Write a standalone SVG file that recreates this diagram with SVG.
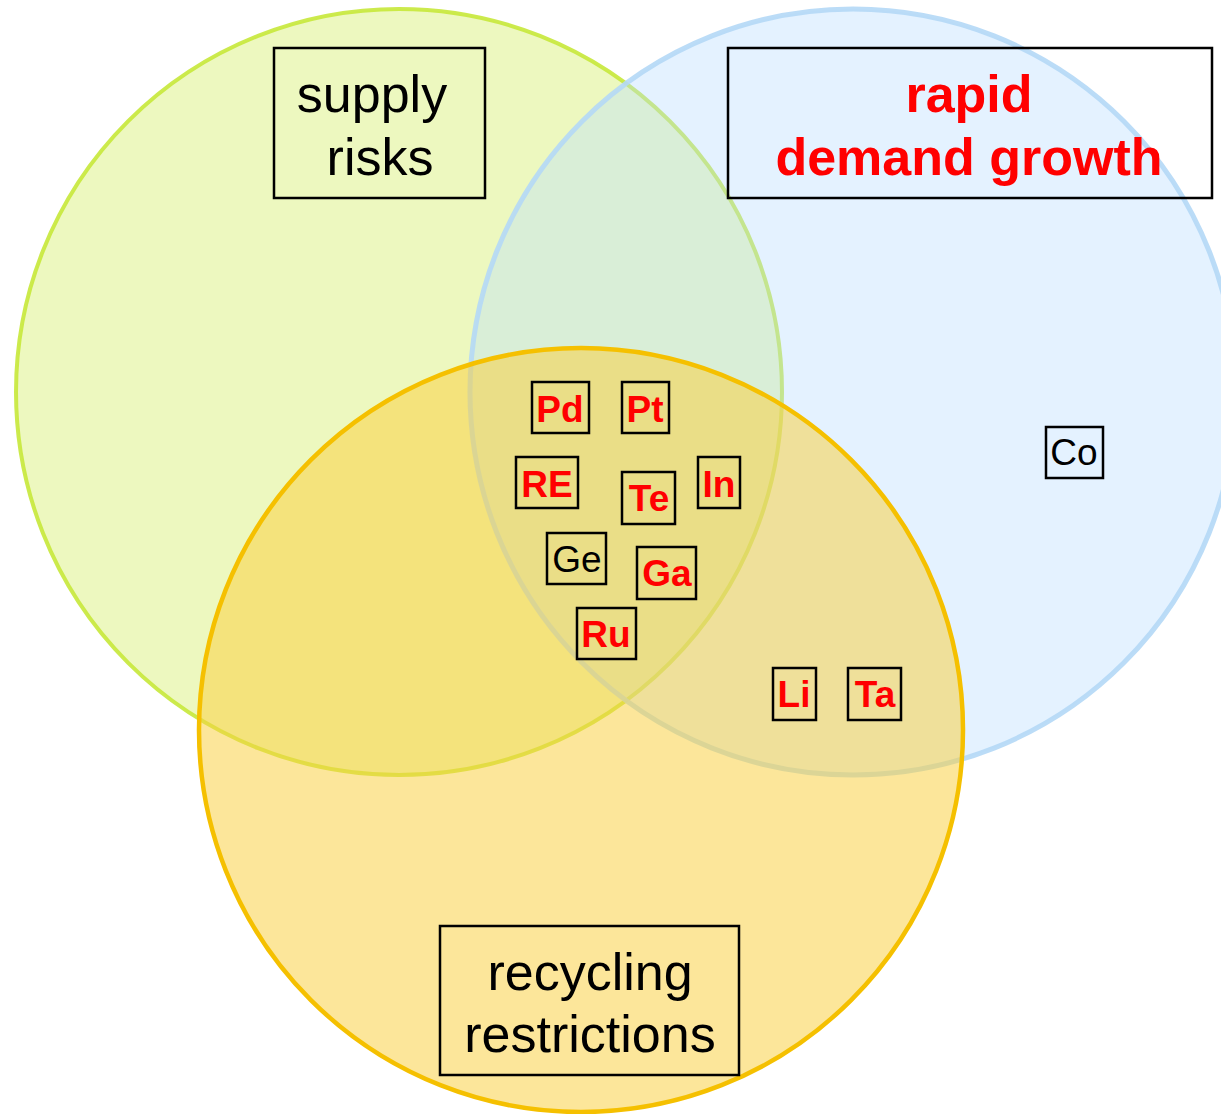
<svg xmlns="http://www.w3.org/2000/svg" width="1221" height="1114" viewBox="0 0 1221 1114">
<style>
.lbl{font-family:"Liberation Sans",Arial,sans-serif;font-size:52px;text-anchor:middle}
.el{font-family:"Liberation Sans",Arial,sans-serif;font-size:37px;font-weight:bold;fill:#ff0000;text-anchor:middle}
.elb{font-family:"Liberation Sans",Arial,sans-serif;font-size:37px;fill:#000;text-anchor:middle}
.box{fill:none;stroke:#000;stroke-width:2.5}
</style>
<rect width="1221" height="1114" fill="#fff"/>
<g id="sets">
<circle id="supply-risks-set" cx="399" cy="392" r="383" fill="#d8f070" fill-opacity="0.45" stroke="#c6e83a" stroke-opacity="0.9" stroke-width="4"/>
<circle id="demand-growth-set" cx="853" cy="392" r="383" fill="#b8dcff" fill-opacity="0.38" stroke="#b4d8f6" stroke-opacity="0.9" stroke-width="5"/>
<circle id="recycling-set" cx="581" cy="730" r="382" fill="#f9d040" fill-opacity="0.53" stroke="#f5c000" stroke-width="4.5"/>
</g>
<g id="label-supply">
<rect class="box" x="274" y="48" width="211" height="150"/>
<text class="lbl" x="372" y="112">supply</text>
<text class="lbl" x="380" y="175">risks</text>
</g>
<g id="label-demand">
<rect class="box" x="728" y="48" width="484" height="150"/>
<text class="lbl" x="969" y="112" fill="#ff0000" font-weight="bold">rapid</text>
<text class="lbl" x="969" y="175" fill="#ff0000" font-weight="bold">demand growth</text>
</g>
<g id="label-recycling">
<rect class="box" x="440" y="926" width="299" height="149"/>
<text class="lbl" x="590" y="990">recycling</text>
<text class="lbl" x="590" y="1052">restrictions</text>
</g>
<g id="el-Pd"><rect class="box" x="532" y="382" width="57" height="51"/><text class="el" x="560" y="422">Pd</text></g>
<g id="el-Pt"><rect class="box" x="622" y="382" width="47" height="51"/><text class="el" x="645" y="422">Pt</text></g>
<g id="el-RE"><rect class="box" x="516" y="457" width="62" height="51"/><text class="el" x="547" y="497">RE</text></g>
<g id="el-Te"><rect class="box" x="622" y="472" width="53" height="52"/><text class="el" x="649" y="511">Te</text></g>
<g id="el-In"><rect class="box" x="698" y="457" width="42" height="51"/><text class="el" x="719" y="497">In</text></g>
<g id="el-Ge"><rect class="box" x="547" y="533" width="59" height="51"/><text class="elb" x="577" y="572">Ge</text></g>
<g id="el-Ga"><rect class="box" x="637" y="547" width="59" height="52"/><text class="el" x="667" y="586">Ga</text></g>
<g id="el-Ru"><rect class="box" x="577" y="608" width="59" height="51"/><text class="el" x="606" y="647">Ru</text></g>
<g id="el-Co"><rect class="box" x="1046" y="427" width="57" height="51"/><text class="elb" x="1074" y="465">Co</text></g>
<g id="el-Li"><rect class="box" x="773" y="668" width="43" height="52"/><text class="el" x="794" y="707">Li</text></g>
<g id="el-Ta"><rect class="box" x="848" y="668" width="53" height="52"/><text class="el" x="875" y="707">Ta</text></g>
<g id="connectors"/>
</svg>
